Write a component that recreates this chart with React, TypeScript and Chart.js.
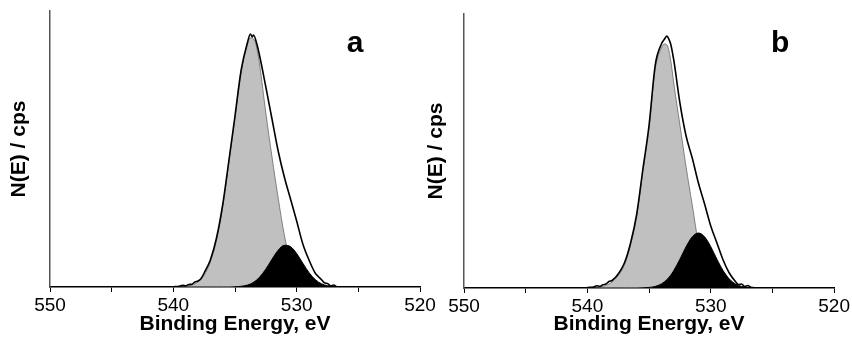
import React, { useEffect, useRef } from "react";
import { Chart, registerables } from "chart.js";

Chart.register(...registerables);

// ---------- Data (binding energy in eV, intensity in arbitrary units) ----------
const xTickLabels = [550, 540, 530, 520];

// Panel a
const energyA = [540, 539.5, 539, 538.5, 538, 537.5, 537, 536.5, 536, 535.5, 535, 534.5, 534, 533.75, 533.5, 533.25, 533, 532.5, 532, 531.5, 531, 530.5, 530, 529.5, 529, 528.5, 528, 527.5, 527, 526.5];
const grayA = [0, 0.2, 0.7, 2, 5, 12, 25, 47, 80, 124, 169, 215, 242, 249, 248, 240, 222, 174, 130, 89, 52, 26, 11, 4, 1.5, 0.5, 0, 0, 0, 0];
const blackA = [0, 0, 0, 0, 0, 0, 0, 0, 0, 0, 0.2, 0.7, 1.9, 3.0, 4.7, 6.9, 9.9, 17.9, 27.8, 36.8, 41.7, 40.4, 33.5, 23.8, 14.4, 7.5, 3.3, 1.3, 0.4, 0.1];
const envEnergyA = [540, 539.5, 539.25, 539, 538.75, 538.5, 538.25, 538, 537.75, 537.5, 537, 536.5, 536, 535.5, 535, 534.5, 534, 533.75, 533.6, 533.5, 533.25, 533, 532.5, 532, 531.5, 531, 530.5, 530, 529.5, 529, 528.5, 528.25, 528, 527.75, 527.5, 527.25, 527, 526.75, 526.5];
const envA = [0.3, 0.8, 1.8, 1.2, 2.5, 2.8, 5, 6, 8.5, 14, 27, 49, 82, 126, 171, 217, 244, 253, 250, 252, 244, 231, 200, 168, 136, 110, 88, 66, 43, 27, 14, 10.5, 7.5, 4.2, 3.5, 1.2, 2, 0.3, 0];

// Panel b
const energyB = [540, 539.5, 539, 538.5, 538, 537.5, 537, 536.5, 536, 535.5, 535, 534.5, 534, 533.75, 533.5, 533.25, 533, 532.5, 532, 531.5, 531, 530.5, 530, 529.5, 529, 528.5, 528, 527.5, 527, 526.5];
const grayB = [0, 0.3, 1, 2.5, 6, 12.5, 23, 43, 72, 117, 160, 219, 240, 244, 242, 228, 205, 163, 121, 83, 45, 24, 11, 4.5, 1.5, 0.5, 0, 0, 0, 0];
const blackB = [0, 0, 0, 0, 0, 0, 0, 0, 0, 0.2, 0.6, 1.6, 4.1, 6.3, 9.1, 12.8, 17.4, 28.8, 41.3, 51.2, 55, 51.2, 41.3, 28.8, 17.4, 9.1, 4.1, 1.6, 0.6, 0.2];
const envEnergyB = [540, 539.5, 539.25, 539, 538.75, 538.5, 538.25, 538, 537.5, 537, 536.5, 536, 535.5, 535, 534.5, 534, 533.75, 533.55, 533.4, 533.25, 533, 532.5, 532, 531.5, 531, 530.5, 530, 529.5, 529, 528.5, 528, 527.75, 527.5, 527.25, 527, 526.75, 526.5];
const envB = [0.5, 1, 2.2, 1.6, 3.2, 4, 6.5, 7.5, 14, 25, 45, 74, 119, 163, 223, 244, 249, 252, 249, 244, 228, 185, 152, 130, 105, 84, 62, 45, 28, 15, 6.5, 3.5, 4, 1.5, 2.5, 0.8, 0.5];

const FONT = '"Liberation Sans", Arial, Helvetica, sans-serif';

const toPoints = (xs: number[], ys: number[]) => xs.map((x, i) => ({ x, y: ys[i] }));

const letterPlugin = {
  id: "panelLetter",
  afterDraw(chart: any, _args: any, opts: any) {
    const { ctx, chartArea } = chart;
    ctx.save();
    ctx.font = `bold 30px ${FONT}`;
    ctx.fillStyle = "#000";
    ctx.textAlign = "center";
    ctx.textBaseline = "alphabetic";
    ctx.fillText(opts.text, chartArea.right - opts.dx, opts.y);
    ctx.restore();
  },
};

type PanelProps = {
  left: number;
  width: number;
  padTop: number;
  padRight: number;
  axisW: number;
  axisH: number;
  yMax: number;
  yTitlePad: number;
  letter: string;
  letterDx: number;
  letterY: number;
  energy: number[];
  gray: number[];
  black: number[];
  envEnergy: number[];
  env: number[];
};

function Panel(p: PanelProps) {
  const ref = useRef<HTMLCanvasElement | null>(null);
  useEffect(() => {
    if (!ref.current) return;
    const chart = new Chart(ref.current, {
      type: "line",
      data: {
        datasets: [
          {
            label: "envelope",
            data: toPoints(p.envEnergy, p.env),
            borderColor: "#000",
            borderWidth: 1.6,
            pointRadius: 0,
            fill: false,
            cubicInterpolationMode: "monotone",
          },
          {
            label: "component 2",
            data: toPoints(p.energy, p.black),
            borderColor: "#000",
            backgroundColor: "#000",
            borderWidth: 1,
            pointRadius: 0,
            fill: "origin",
            cubicInterpolationMode: "monotone",
          },
          {
            label: "component 1",
            data: toPoints(p.energy, p.gray),
            borderColor: "#6a6a6a",
            backgroundColor: "#c0c0c0",
            borderWidth: 0.8,
            pointRadius: 0,
            fill: "origin",
            cubicInterpolationMode: "monotone",
          },
        ],
      },
      options: {
        animation: false,
        responsive: false,
        devicePixelRatio: 1,
        layout: { padding: { top: p.padTop, right: p.padRight, left: 0, bottom: 0 } },
        plugins: {
          legend: { display: false },
          tooltip: { enabled: false },
          panelLetter: { text: p.letter, dx: p.letterDx, y: p.letterY },
        } as any,
        scales: {
          x: {
            type: "linear",
            reverse: true,
            min: 520,
            max: 550,
            afterFit: (s: any) => {
              s.height = p.axisH;
            },
            ticks: {
              stepSize: 5,
              autoSkip: false,
              maxRotation: 0,
              color: "#000",
              padding: 2,
              font: { family: FONT, size: 19 },
              callback: (v: any) => (xTickLabels.includes(Number(v)) ? String(v) : ""),
            },
            grid: {
              display: true,
              drawOnChartArea: false,
              drawTicks: true,
              tickLength: 5,
              color: "#000",
              lineWidth: 1,
            },
            border: { display: true, color: "#000", width: 1.5 },
            title: {
              display: true,
              text: "Binding Energy, eV",
              color: "#000",
              font: { family: FONT, size: 21, weight: "bold" },
              padding: { top: 0, bottom: 6 },
            },
          },
          y: {
            min: 0,
            max: p.yMax,
            afterFit: (s: any) => {
              s.width = p.axisW;
            },
            ticks: { display: false },
            grid: { display: false },
            border: { display: true, color: "#555", width: 1.5 },
            title: {
              display: true,
              text: "N(E) / cps",
              color: "#000",
              font: { family: FONT, size: 21, weight: "bold" },
              padding: { top: p.yTitlePad, bottom: 0 },
            },
          },
        },
      } as any,
      plugins: [letterPlugin as any],
    });
    return () => chart.destroy();
  }, []);
  return (
    <canvas
      ref={ref}
      width={p.width}
      height={343}
      style={{ position: "absolute", left: p.left, top: 0, width: p.width, height: 343 }}
    />
  );
}

export default function App() {
  return (
    <div style={{ position: "absolute", left: 0, top: 0, width: 852, height: 343, background: "#fff", overflow: "hidden" }}>
      <Panel
        left={0}
        width={440}
        padTop={11}
        padRight={20}
        axisW={50}
        axisH={56}
        yMax={276}
        yTitlePad={7}
        letter="a"
        letterDx={65}
        letterY={52}
        energy={energyA}
        gray={grayA}
        black={blackA}
        envEnergy={envEnergyA}
        env={envA}
      />
      <Panel
        left={422}
        width={430}
        padTop={14}
        padRight={17}
        axisW={42}
        axisH={55}
        yMax={274}
        yTitlePad={2}
        letter="b"
        letterDx={54}
        letterY={52}
        energy={energyB}
        gray={grayB}
        black={blackB}
        envEnergy={envEnergyB}
        env={envB}
      />
    </div>
  );
}
